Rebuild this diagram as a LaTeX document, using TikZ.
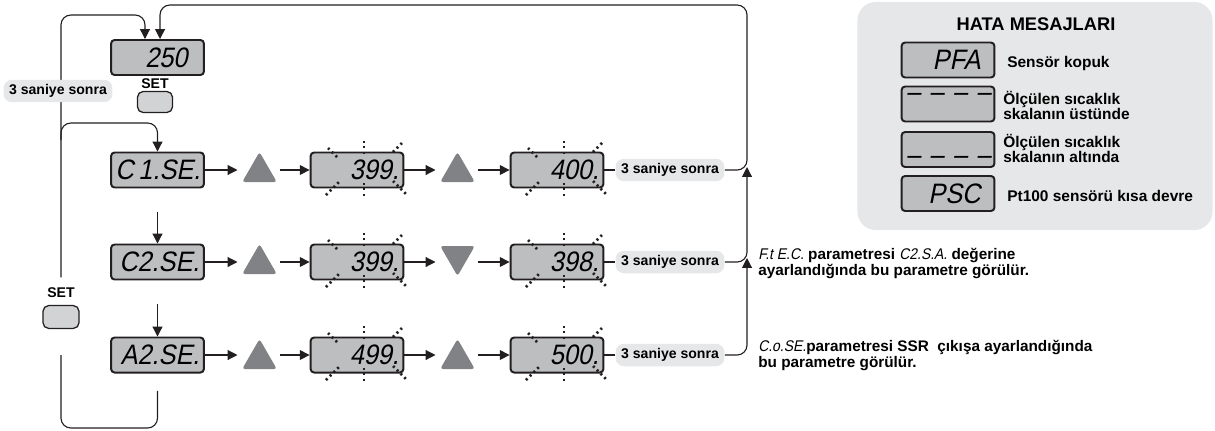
\documentclass[tikz,border=0pt]{standalone}
\usepackage{fontspec}
\setmainfont{Liberation Sans}
\newfontfamily\segfont{Liberation Sans}[FakeSlant=0.2,FakeStretch=0.9]
\usepackage{xcolor}
\usetikzlibrary{arrows.meta,positioning,calc,shapes.geometric}
\definecolor{lcdGray}{RGB}{188,190,192}
\definecolor{inkBlack}{RGB}{35,31,32}
\definecolor{keyGray}{RGB}{128,130,133}
\definecolor{tagGray}{RGB}{230,231,232}
\definecolor{buttonGray}{RGB}{209,211,212}
\colorlet{panelgray}{tagGray}

\begin{document}
\begin{tikzpicture}[x=0.025cm,y=-0.025cm,>={Triangle[length=7pt,width=7pt]},
  lcd/.style={draw=inkBlack,line width=1.4pt,fill=lcdGray,rounded corners=2.5pt,text width=2.1cm,inner xsep=0.11cm,inner ysep=0pt,minimum height=0.875cm,align=right,font=\segfont\fontsize{20}{22}\selectfont},
  keyup/.style={regular polygon,regular polygon sides=3,fill=keyGray,rounded corners=2pt,minimum size=1cm,inner sep=0pt},
  keydown/.style={keyup,shape border rotate=180},
  tag/.style={fill=tagGray,rounded corners=6pt,minimum height=0.5cm,inner xsep=4pt,font=\bfseries\fontsize{10}{12}\selectfont},
  setlabel/.style={font=\bfseries\fontsize{10}{12}\selectfont},
  button/.style={draw=inkBlack,line width=0.9pt,fill=buttonGray,rounded corners=4pt,minimum width=0.9cm,minimum height=0.57cm},
  flow/.style={draw=inkBlack,line width=0.8pt,->},
  wire/.style={draw=inkBlack,line width=0.8pt},
  blink/.style={draw=inkBlack,line width=1.8pt,dash pattern=on 1.5pt off 2.3pt},
  note/.style={anchor=west,inner sep=0pt,align=left,font=\bfseries\fontsize{10.9}{11.4}\selectfont},
  msg/.style={anchor=west,inner sep=0pt,align=left,font=\bfseries\fontsize{11}{11}\selectfont}]
\useasboundingbox (0,0) rectangle (1215,430);

% error panel
\node[fill=panelgray,rounded corners=13pt,minimum width=8.875cm,minimum height=5.7cm] (panel) at (1035,116) {};
\node[font=\bfseries\fontsize{13}{15}\selectfont] (title) at (1036,24) {HATA MESAJLARI};
\node[lcd] (pfa) at (948,60) {PFA\kern6.8pt};
\node[lcd] (over) at (948,104) {\smash{\raisebox{1.6pt}{– – – –\kern8pt}}};
\node[lcd] (under) at (948,149.5) {\smash{\raisebox{-10.7pt}{– – – –\kern8pt}}};
\node[lcd] (psc) at (948,193.5) {PSC\kern6.8pt};
\node[msg] (msg1) at (1007,63) {Sensör kopuk};
\node[msg] (msg2) at (1003,105.5) {Ölçülen sıcaklık\\skalanın üstünde};
\node[msg] (msg3) at (1003,148.5) {Ölçülen sıcaklık\\skalanın altında};
\node[msg] (msg4) at (1007,196) {Pt100 sensörü kısa devre};

% main display
\node[lcd] (main) at (157.5,57.5) {250\kern8.5pt};
\node[setlabel] (setT) at (155,84) {SET};
\node[button,minimum width=0.875cm,minimum height=0.525cm] (btnT) at (155,102) {};

% row 1
\node[lcd] (c1se) at (157.5,170) {C\,1.SE.};
\node[keyup] (up1) at (259.5,172) {};
\node[lcd] (v399a) at (357,170) {399.};
\node[keyup] (up2) at (457.5,172) {};
\node[lcd] (v400) at (557,170) {400.};
\node[tag] (wait1) at (670,170) {3 saniye sonra};

% row 2
\node[lcd] (c2se) at (157.5,262) {C2.SE.};
\node[keyup] (up3) at (259.5,264) {};
\node[lcd] (v399b) at (357,262) {399.};
\node[keydown] (down1) at (457.5,256) {};
\node[lcd] (v398) at (557,262) {398.};
\node[tag] (wait2) at (670,262) {3 saniye sonra};

% row 3
\node[lcd] (a2se) at (157.5,355) {A2.SE.};
\node[keyup] (up4) at (259.5,359) {};
\node[lcd] (v499) at (357,355) {499.};
\node[keyup] (up5) at (457.5,359) {};
\node[lcd] (v500) at (557,355) {500.};
\node[tag] (wait3) at (670,355) {3 saniye sonra};

% blinking values
\foreach \d in {v399a,v400,v399b,v398,v499,v500}
  \foreach \ax/\ay/\bx/\by in {7/-29/7/-15,7/13/7/28,-29/-22/-19/-12,45/-27/35/-17,-31/25/-17/11,36/11/50/25}
    \draw[blink] ($(\d.center)+(\ax,\ay)$) -- ($(\d.center)+(\bx,\by)$);

% key presses
\foreach \a/\k/\b in {c1se/up1/v399a,v399a/up2/v400,c2se/up3/v399b,v399b/down1/v398,a2se/up4/v499,v499/up5/v500} {
  \draw[flow] (\a.east) -- ($(\a.east -| \k.center)+(-22,0)$);
  \draw[flow] ($(\b.west -| \k.center)+(20,0)$) -- (\b.west);
}
\draw[flow] ([yshift=-16.5pt]c1se.south) -- (c2se.north);
\draw[flow] ([yshift=-16.5pt]c2se.south) -- (a2se.north);
\draw[wire] (v400.east) -- (wait1.west);
\draw[wire] (v398.east) -- (wait2.west);
\draw[wire] (v500.east) -- (wait3.west);

% right returns
\coordinate (topR) at (747,5);
\coordinate (join1) at (747,167);
\coordinate (join2) at (747,258);
\draw[flow,rounded corners=7pt] (wait1.east) -| (topR) -| ([xshift=1.8pt]main.north);
\draw[flow,rounded corners=7pt] (wait2.east) -| (join1);
\draw[flow,rounded corners=7pt] (wait3.east) -| (join2);

% left loop
\node[setlabel] (setL) at (61,293) {SET};
\node[button] (btnL) at (61,317) {};
\coordinate (topL) at (61,15);
\coordinate (turnL) at (61,123);
\coordinate (branchL) at (61,140);
\coordinate (botL) at (61,428);
\draw[flow,rounded corners=7pt] ([yshift=4pt]setL.north) -- (topL) -| ([xshift=-8.9pt]main.north);
\draw[flow,rounded corners=7pt] (branchL) -- (turnL) -| (c1se.north);
\draw[wire,rounded corners=7pt] ([yshift=-12.4pt]a2se.south) |- (botL) -- ([yshift=-18.5pt]btnL.south);
\node[tag] (waitL) at (58,91) {3 saniye sonra};

% notes
\node[note] (note1) at (758,263) {{\mdseries\segfont\fontsize{11}{11.4}\selectfont F.t E.C.} parametresi {\mdseries\segfont\fontsize{11}{11.4}\selectfont C2.S.A.} değerine\\ayarlandığında bu parametre görülür.};
\node[note] (note2) at (758,355) {{\mdseries\segfont\fontsize{11}{11.4}\selectfont C.o.SE.}parametresi SSR~ çıkışa ayarlandığında\\bu parametre görülür.};
\end{tikzpicture}
\end{document}
